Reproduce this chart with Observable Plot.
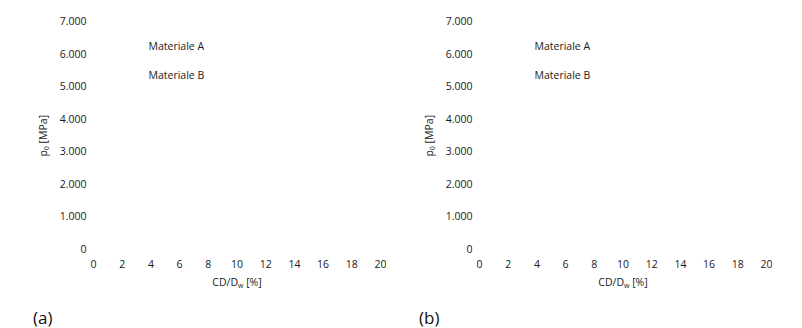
<!DOCTYPE html>
<html><head><meta charset="utf-8">
<script src="https://cdn.jsdelivr.net/npm/d3@7"></script>
<script src="https://cdn.jsdelivr.net/npm/@observablehq/plot@0.6"></script>
<style>
body{margin:0;background:#fff;font-family:"Open Sans",sans-serif;}
#wrap{position:relative;width:802px;height:328px;background:#fff;}
.panel{position:absolute;top:0;width:386px;height:328px;}
.cap{position:absolute;left:33px;top:309px;font-size:17px;line-height:17px;color:#111;font-family:"Open Sans",sans-serif;}
</style></head><body><div id="wrap"></div>
<script>
const panels = ["(a)", "(b)"];
const series = ["Materiale A", "Materiale B"];
const xTicks = [0, 2, 4, 6, 8, 10, 12, 14, 16, 18, 20];
const yTicks = [0, 1000, 2000, 3000, 4000, 5000, 6000, 7000];
const yTickLabels = ["0", "1.000", "2.000", "3.000", "4.000", "5.000", "6.000", "7.000"];
const xLabel = "CD/Dw [%]";
const yLabel = "p0 [MPa]";

const wrap = document.getElementById("wrap");
const ink = "#1a1a1a";

panels.forEach((cap, pi) => {
  const div = document.createElement("div");
  div.className = "panel";
  div.style.left = (pi * 386) + "px";
  const chart = Plot.plot({
    width: 386, height: 298,
    marginLeft: 93, marginRight: 6, marginTop: 21.5, marginBottom: 49,
    style: {fontFamily: "Open Sans", fontSize: "10.5px", color: ink, background: "white"},
    x: {domain: [0, 20], label: null},
    y: {domain: [0, 7000], label: null},
    marks: [
      Plot.axisX({ticks: xTicks, tickSize: 0, tickPadding: 11, label: null}),
      Plot.axisY({ticks: yTicks, tickSize: 0, tickPadding: 7, label: null,
        tickFormat: d => yTickLabels[yTicks.indexOf(d)]}),
      Plot.text([xLabel], {frameAnchor: "bottom", dy: 33, text: d => d, lineAnchor: "middle", fill: ink}),
      Plot.text([yLabel], {frameAnchor: "left", dx: -50, rotate: -90, text: d => d, lineAnchor: "middle", fill: ink}),
      ...series.map((s, i) => Plot.text([s], {frameAnchor: "top-left", dx: 55, dy: 24.5 + i * 29,
        textAnchor: "start", lineAnchor: "middle", text: d => d, fill: ink}))
    ]
  });
  div.appendChild(chart);
  const c = document.createElement("div");
  c.className = "cap";
  c.textContent = cap;
  div.appendChild(c);
  wrap.appendChild(div);
  chart.querySelectorAll("text").forEach(t => {
    let html = null;
    if (t.textContent === xLabel) {
      html = 'CD/D<tspan dy="2" font-size="7">w</tspan><tspan dy="-2"> [%]</tspan>';
    } else if (t.textContent === yLabel) {
      html = 'p<tspan dy="2" font-size="7">0</tspan><tspan dy="-2"> [MPa]</tspan>';
    }
    if (html) {
      t.innerHTML = html;
      t.setAttribute("text-anchor", "start");
      const len = t.getComputedTextLength();
      t.setAttribute("x", (-len / 2).toFixed(2));
    }
  });
});
</script>
</body></html>
